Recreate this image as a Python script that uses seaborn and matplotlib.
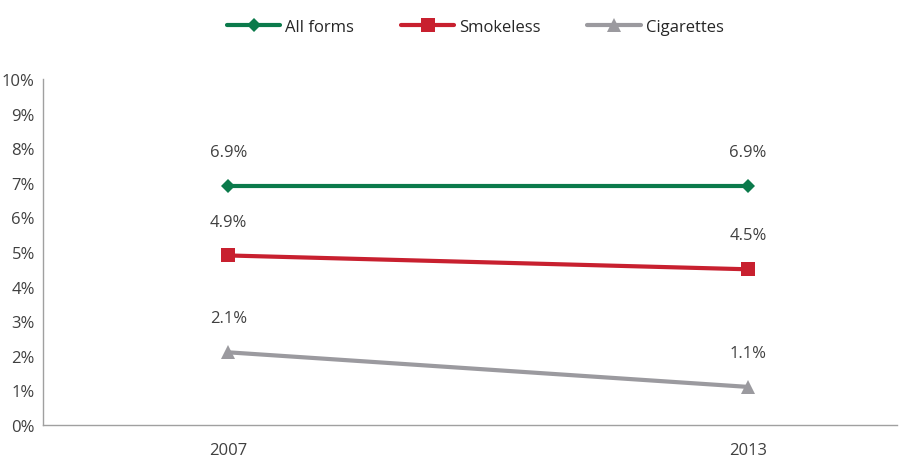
import pandas as pd
import matplotlib.pyplot as plt
import seaborn as sns

# Chart data
years = ["2007", "2013"]
all_forms = [6.9, 6.9]
smokeless = [4.9, 4.5]
cigarettes = [2.1, 1.1]
series_names = ["All forms", "Smokeless", "Cigarettes"]

df = pd.DataFrame({
    "year": years * 3,
    "pos": [0, 1] * 3,
    "value": all_forms + smokeless + cigarettes,
    "series": [s for s in series_names for _ in years],
})

sns.set_style("white")
plt.rcParams['font.family'] = ['Open Sans', 'DejaVu Sans']

colors = {"All forms": "#0b7a4b", "Smokeless": "#c8202f", "Cigarettes": "#9b9a9f"}
markers = {"All forms": "D", "Smokeless": "s", "Cigarettes": "^"}
sizes = {"All forms": 7, "Smokeless": 10, "Cigarettes": 10}

fig = plt.figure(figsize=(9, 4.6), dpi=100)
ax = fig.add_axes([0.048, 0.074, 0.949, 0.752])

for name in series_names:
    sub = df[df["series"] == name]
    sns.lineplot(data=sub, x="pos", y="value", color=colors[name], marker=markers[name],
                 markersize=sizes[name], markeredgewidth=0, linewidth=3, label=name, ax=ax)
    for x, y in zip(sub["pos"], sub["value"]):
        ax.text(x, y + 0.75, f"{y:.1f}%", ha="center", va="bottom", fontsize=12, color="#404040")

ax.set_xlim(-0.356, 1.287)
ax.set_ylim(0, 10)
ax.set_xticks([0, 1])
ax.set_xticklabels(years, fontsize=12, color="#404040")
ax.set_yticks(range(0, 11))
ax.set_yticklabels([f"{i}%" for i in range(0, 11)], fontsize=12, color="#404040")
ax.tick_params(axis="x", pad=12, length=0)
ax.tick_params(axis="y", pad=6, length=0)
ax.set_xlabel("")
ax.set_ylabel("")
for side in ["top", "right"]:
    ax.spines[side].set_visible(False)
for side in ["left", "bottom"]:
    ax.spines[side].set_color("#a0a0a0")
    ax.spines[side].set_linewidth(1)

ax.legend(loc="center", bbox_to_anchor=(0.506, 1.15), ncol=3, frameon=False,
          fontsize=12, handlelength=3.2, columnspacing=2.8, handletextpad=0.3,
          labelcolor="#262626")

fig.savefig("out.png", dpi=100)
